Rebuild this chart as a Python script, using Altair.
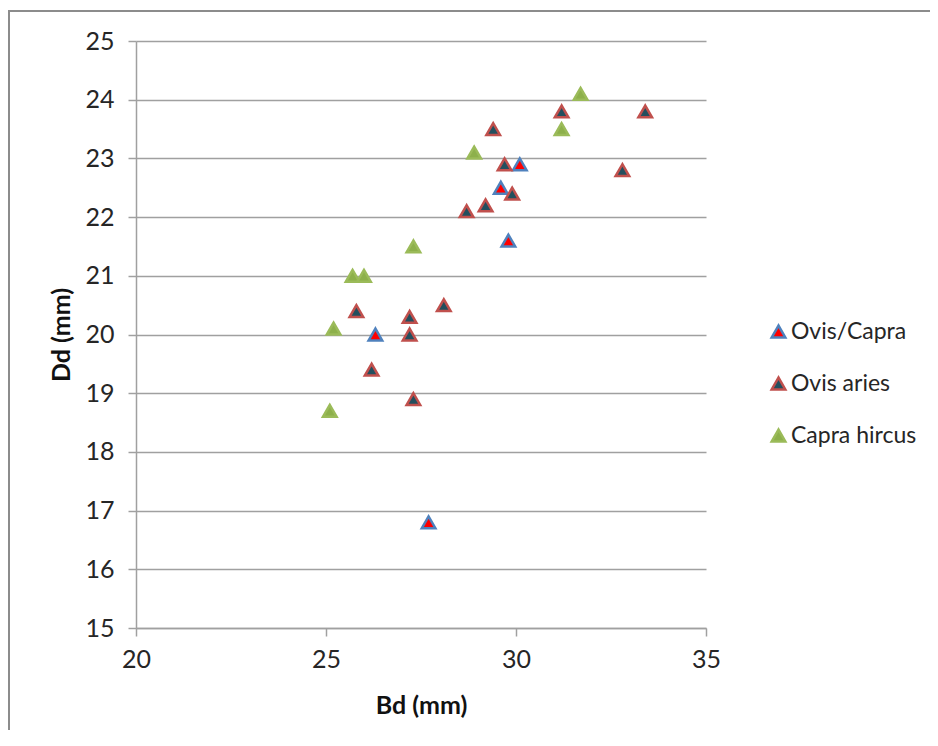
import altair as alt
import pandas as pd

series_names = ["Ovis/Capra", "Ovis aries", "Capra hircus"]

ovis_capra_bd = [30.1, 29.6, 29.8, 26.3, 27.7]
ovis_capra_dd = [22.9, 22.5, 21.6, 20.0, 16.8]

ovis_aries_bd = [31.2, 33.4, 29.4, 29.7, 32.8, 29.9, 29.2, 28.7, 28.1, 25.8, 27.2, 27.2, 26.2, 27.3]
ovis_aries_dd = [23.8, 23.8, 23.5, 22.9, 22.8, 22.4, 22.2, 22.1, 20.5, 20.4, 20.3, 20.0, 19.4, 18.9]

capra_hircus_bd = [31.7, 31.2, 28.9, 27.3, 25.7, 26.0, 25.2, 25.1]
capra_hircus_dd = [24.1, 23.5, 23.1, 21.5, 21.0, 21.0, 20.1, 18.7]

fill_colors = ["#FF0000", "#234F5E", "#8DB04B"]
stroke_colors = ["#4F81BD", "#C0504D", "#9BBB59"]

x_ticks = [20, 25, 30, 35]
y_ticks = list(range(15, 26))

rows = []
for name, bds, dds in [
    (series_names[0], ovis_capra_bd, ovis_capra_dd),
    (series_names[1], ovis_aries_bd, ovis_aries_dd),
    (series_names[2], capra_hircus_bd, capra_hircus_dd),
]:
    for b, d in zip(bds, dds):
        rows.append({"series": name, "Bd": b, "Dd": d})
df = pd.DataFrame(rows)

FONT = "Lato"
TXT = "#262626"
GRAY = "#a0a0a0"

points = alt.Chart(df).mark_point(
    shape="triangle-up", filled=True, size=185, strokeWidth=2.5, opacity=1
).encode(
    x=alt.X("Bd:Q", title="Bd (mm)",
            scale=alt.Scale(domain=[20, 35], nice=False, zero=False),
            axis=alt.Axis(values=x_ticks, grid=False, tickSize=8, labelPadding=11,
                          labelFlush=False, titlePadding=21)),
    y=alt.Y("Dd:Q", title="Dd (mm)",
            scale=alt.Scale(domain=[15, 25], nice=False, zero=False),
            axis=alt.Axis(values=y_ticks, grid=True, tickSize=8, labelPadding=14,
                          labelFlush=False, titlePadding=10)),
    fill=alt.Fill("series:N", scale=alt.Scale(domain=series_names, range=fill_colors),
                  legend=alt.Legend(title=None)),
    stroke=alt.Stroke("series:N", scale=alt.Scale(domain=series_names, range=stroke_colors),
                      legend=alt.Legend(title=None)),
    order=alt.Order("order:Q"),
).transform_calculate(
    order="indexof(['Ovis/Capra','Ovis aries','Capra hircus'], datum.series)"
)

border_left = alt.Chart(pd.DataFrame({"a": [0]})).mark_rule(color="#8c8c8c", strokeWidth=2).encode(
    x=alt.value(-127), y=alt.value(-30), y2=alt.value(700)
)
border_top = alt.Chart(pd.DataFrame({"a": [0]})).mark_rule(color="#8c8c8c", strokeWidth=2).encode(
    x=alt.value(-128), x2=alt.value(800), y=alt.value(-30)
)

chart = alt.layer(border_left, border_top, points).properties(
    width=570, height=587,
    padding={"left": 128, "top": 33, "right": 224, "bottom": 102},
    autosize=alt.AutoSizeParams(type="none"),
).configure_view(stroke=None).configure_axis(
    labelFont=FONT, labelFontSize=25, labelColor=TXT,
    titleFont=FONT, titleFontSize=25, titleFontWeight="bold", titleColor="#111111",
    domainColor=GRAY, tickColor=GRAY, gridColor=GRAY, domainWidth=1.5, tickWidth=1.5, gridWidth=1.5,
).configure_legend(
    orient="none", legendX=631, legendY=279,
    labelFont=FONT, labelFontSize=23, labelColor=TXT,
    symbolSize=185, symbolStrokeWidth=2.5, rowPadding=28, labelOffset=1,
    symbolType="triangle-up",
)

chart.save("out.html", embed_options={"renderer": "svg", "actions": False})
